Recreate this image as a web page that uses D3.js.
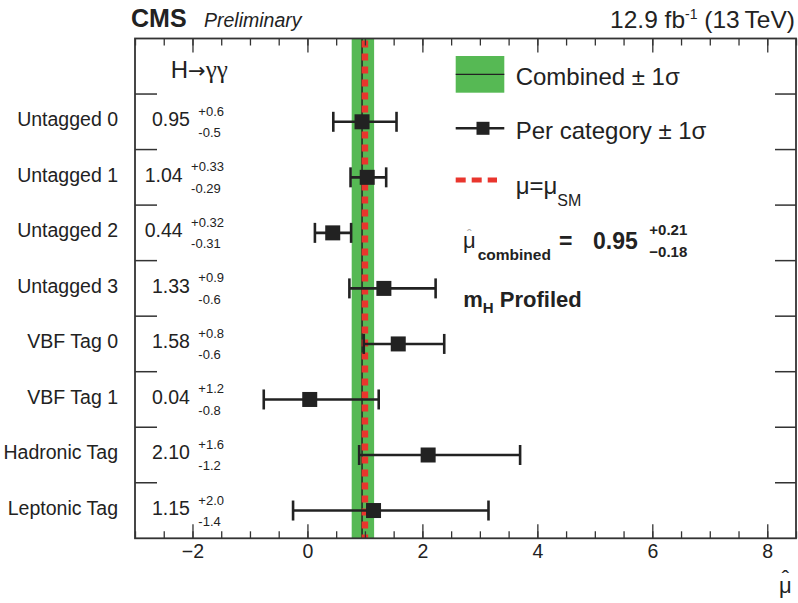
<!DOCTYPE html>
<html>
<head>
<meta charset="utf-8">
<script src="https://cdn.jsdelivr.net/npm/d3@7"></script>
<style>
  body { margin: 0; background: #fff; }
  svg text { font-family: "Liberation Sans", Arial, Helvetica, sans-serif; fill: #222; }
</style>
</head>
<body>
<svg width="798" height="603"></svg>
<script>
// per-category signal strength fits, H->gammagamma
const categories = ["Untagged 0", "Untagged 1", "Untagged 2", "Untagged 3",
                    "VBF Tag 0", "VBF Tag 1", "Hadronic Tag", "Leptonic Tag"];
const muValues = ["0.95", "1.04", "0.44", "1.33", "1.58", "0.04", "2.10", "1.15"];
const errUp    = ["0.6", "0.33", "0.32", "0.9", "0.8", "1.2", "1.6", "2.0"];
const errDown  = ["0.5", "0.29", "0.31", "0.6", "0.6", "0.8", "1.2", "1.4"];

const muCombined = "0.95";
const combinedUp = "0.21";
const combinedDown = "0.18";
const muSM = 1;

const xMajorTicks = [-2, 0, 2, 4, 6, 8];
const xMinorTicks = d3.range(-3, 8.51, 0.5);

const rows = categories.map((c, i) => ({
    name: c,
    mu: +muValues[i],
    up: +errUp[i],
    down: +errDown[i],
    muText: muValues[i],
    upText: "+" + errUp[i],
    downText: "-" + errDown[i]
}));

const svg = d3.select("svg");
const plotLeft = 135, plotRight = 796, plotTop = 38.5, plotBottom = 538.3;

const x = d3.scaleLinear().domain([-3, 8.5]).range([plotLeft, plotRight]);
const y = d3.scaleBand().domain(["header", ...categories]).range([plotTop, plotBottom]);
const yc = d => y(d) + y.bandwidth() / 2;

const green = "#56b954", red = "#e9352d", ink = "#222";

// combined +-1 sigma band
svg.append("rect")
    .attr("x", x(+muCombined - +combinedDown))
    .attr("y", plotTop)
    .attr("width", x(+muCombined + +combinedUp) - x(+muCombined - +combinedDown))
    .attr("height", plotBottom - plotTop)
    .attr("fill", green);

svg.append("line")
    .attr("x1", x(+muCombined)).attr("x2", x(+muCombined))
    .attr("y1", plotTop).attr("y2", plotBottom)
    .attr("stroke", ink).attr("stroke-width", 1.5);

svg.append("line")
    .attr("x1", x(muSM)).attr("x2", x(muSM))
    .attr("y1", plotTop + 2).attr("y2", plotBottom)
    .attr("stroke", red).attr("stroke-width", 6.5)
    .attr("stroke-dasharray", "7,6");

// axes: major + minor ticks on bottom and top, pointing inwards
const gBottom = svg.append("g").attr("transform", `translate(0,${plotBottom})`)
    .call(d3.axisBottom(x).tickValues(xMajorTicks).tickSize(-14).tickPadding(6).tickFormat(d3.format("")));
svg.append("g").attr("transform", `translate(0,${plotBottom})`)
    .call(d3.axisBottom(x).tickValues(xMinorTicks).tickSize(-7).tickFormat(""));
svg.append("g").attr("transform", `translate(0,${plotTop})`)
    .call(d3.axisTop(x).tickValues(xMajorTicks).tickSize(-14).tickFormat(""));
svg.append("g").attr("transform", `translate(0,${plotTop})`)
    .call(d3.axisTop(x).tickValues(xMinorTicks).tickSize(-7).tickFormat(""));

svg.selectAll(".domain").remove();
svg.selectAll(".tick line").attr("stroke", "#333").attr("stroke-width", 1.3);
gBottom.selectAll("text")
    .style("font-family", "'Liberation Sans', Arial, sans-serif")
    .style("font-size", "19.5px").attr("fill", ink);

// category boundaries on both sides
const boundaries = categories.map(c => y(c));
svg.selectAll(".ltick").data(boundaries).join("line")
    .attr("x1", plotLeft).attr("x2", plotLeft + 22)
    .attr("y1", d => d).attr("y2", d => d)
    .attr("stroke", "#333").attr("stroke-width", 1.5);
svg.selectAll(".rtick").data(boundaries).join("line")
    .attr("x1", plotRight - 21).attr("x2", plotRight)
    .attr("y1", d => d).attr("y2", d => d)
    .attr("stroke", "#333").attr("stroke-width", 1.5);

// frame
svg.append("rect")
    .attr("x", plotLeft).attr("y", plotTop)
    .attr("width", plotRight - plotLeft).attr("height", plotBottom - plotTop)
    .attr("fill", "none").attr("stroke", "#333").attr("stroke-width", 1.8);

// category labels
svg.selectAll(".cat").data(rows).join("text")
    .attr("x", 118).attr("y", d => yc(d.name) + 4.3)
    .attr("text-anchor", "end")
    .style("font-size", "19.5px")
    .text(d => d.name);

// value labels, right-aligned block with super/subscript errors
const valG = svg.selectAll(".val").data(rows).join("g");
valG.each(function(d) {
    const g = d3.select(this);
    const c = yc(d.name);
    const main = g.append("text").attr("x", 0).attr("y", c + 4.3)
        .style("font-size", "19.5px").text(d.muText);
    const sx = main.node().getComputedTextLength() + 8.5;
    const sup = g.append("text").attr("x", sx).attr("y", c - 6)
        .style("font-size", "13px").text(d.upText);
    const sub = g.append("text").attr("x", sx).attr("y", c + 15.3)
        .style("font-size", "13px").text(d.downText);
    const w = sx + Math.max(sup.node().getComputedTextLength(), sub.node().getComputedTextLength());
    g.attr("transform", `translate(${224 - w},0)`);
});

// per-category error bars and markers
const bars = svg.selectAll(".bar").data(rows).join("g");
bars.append("line")
    .attr("x1", d => x(d.mu - d.down)).attr("x2", d => x(d.mu + d.up))
    .attr("y1", d => yc(d.name)).attr("y2", d => yc(d.name))
    .attr("stroke", ink).attr("stroke-width", 2.6);
bars.append("line")
    .attr("x1", d => x(d.mu - d.down)).attr("x2", d => x(d.mu - d.down))
    .attr("y1", d => yc(d.name) - 10).attr("y2", d => yc(d.name) + 10)
    .attr("stroke", ink).attr("stroke-width", 2.6);
bars.append("line")
    .attr("x1", d => x(d.mu + d.up)).attr("x2", d => x(d.mu + d.up))
    .attr("y1", d => yc(d.name) - 10).attr("y2", d => yc(d.name) + 10)
    .attr("stroke", ink).attr("stroke-width", 2.6);
bars.append("rect")
    .attr("x", d => x(d.mu) - 7.5).attr("y", d => yc(d.name) - 7.5)
    .attr("width", 15).attr("height", 15)
    .attr("fill", ink);

// process label
const proc = svg.append("text").attr("x", 170.7).attr("y", 78).style("font-size", "24px");
proc.append("tspan").text("H");
proc.append("tspan").style("font-family", "'DejaVu Sans', sans-serif").style("font-size", "21px").text("→");
proc.append("tspan").style("font-family", "'Liberation Serif', serif").style("font-size", "25px").text("γγ");

// legend
const lg = svg.append("g");
lg.append("rect").attr("x", 455.7).attr("y", 56).attr("width", 48.6).attr("height", 36.7).attr("fill", green);
lg.append("line").attr("x1", 455.7).attr("x2", 504.3).attr("y1", 74.3).attr("y2", 74.3)
    .attr("stroke", ink).attr("stroke-width", 1.2);
lg.append("text").attr("x", 515.7).attr("y", 85).style("font-size", "24px").text("Combined ± 1σ");

lg.append("line").attr("x1", 455.7).attr("x2", 504.3).attr("y1", 128.3).attr("y2", 128.3)
    .attr("stroke", ink).attr("stroke-width", 2.6);
lg.append("rect").attr("x", 476.5).attr("y", 121.8).attr("width", 13).attr("height", 13).attr("fill", ink);
lg.append("text").attr("x", 515.7).attr("y", 139.3).style("font-size", "24px").text("Per category ± 1σ");

lg.append("line").attr("x1", 455.7).attr("x2", 497).attr("y1", 180).attr("y2", 180)
    .attr("stroke", red).attr("stroke-width", 5).attr("stroke-dasharray", "10,6");
const smText = lg.append("text").attr("x", 515.7).attr("y", 194).style("font-size", "24px");
smText.append("tspan").text("μ=μ");
smText.append("tspan").attr("dy", 11.7).style("font-size", "16px").text("SM");

// combined result
const cg = svg.append("g");
const muHat = cg.append("text").attr("x", 463).attr("y", 248).style("font-size", "22px");
muHat.append("tspan").text("μ");
muHat.append("tspan").attr("dx", -8.8).attr("dy", -8).style("font-size", "14px").attr("fill", "#aaa").text("ˆ");
cg.append("text").attr("x", 477.7).attr("y", 260).style("font-size", "15.5px").style("font-weight", "bold").text("combined");
cg.append("text").attr("x", 559).attr("y", 249).style("font-size", "23px").style("font-weight", "bold").text("=");
cg.append("text").attr("x", 593).attr("y", 249.3).style("font-size", "23px").style("font-weight", "bold").text(muCombined);
cg.append("text").attr("x", 649.3).attr("y", 235).style("font-size", "15px").style("font-weight", "bold").text("+" + combinedUp);
cg.append("text").attr("x", 649.3).attr("y", 256.7).style("font-size", "15px").style("font-weight", "bold").text("−" + combinedDown);

const mh = svg.append("text").attr("x", 463.3).attr("y", 306.7)
    .style("font-size", "22px").style("font-weight", "bold");
mh.append("tspan").text("m");
mh.append("tspan").attr("dy", 6).style("font-size", "15px").text("H");
mh.append("tspan").attr("dy", -6).text(" Profiled");

// header
svg.append("text").attr("x", 131).attr("y", 27)
    .style("font-size", "25px").style("font-weight", "bold").text("CMS");
svg.append("text").attr("x", 204).attr("y", 27)
    .style("font-size", "19.5px").style("font-style", "italic").text("Preliminary");

const lumi = svg.append("text").attr("x", 795).attr("y", 27.7)
    .attr("text-anchor", "end").style("font-size", "24.5px");
lumi.append("tspan").text("12.9 fb");
lumi.append("tspan").attr("dy", -9).style("font-size", "14px").text("-1");
lumi.append("tspan").attr("dy", 9).text(" (13\u2009TeV)");

// x axis title
const xTitle = svg.append("text").attr("x", 779).attr("y", 593).style("font-size", "22px");
xTitle.append("tspan").text("μ");
xTitle.append("tspan").attr("dx", -10).attr("dy", -7).text("ˆ");
</script>
</body>
</html>
